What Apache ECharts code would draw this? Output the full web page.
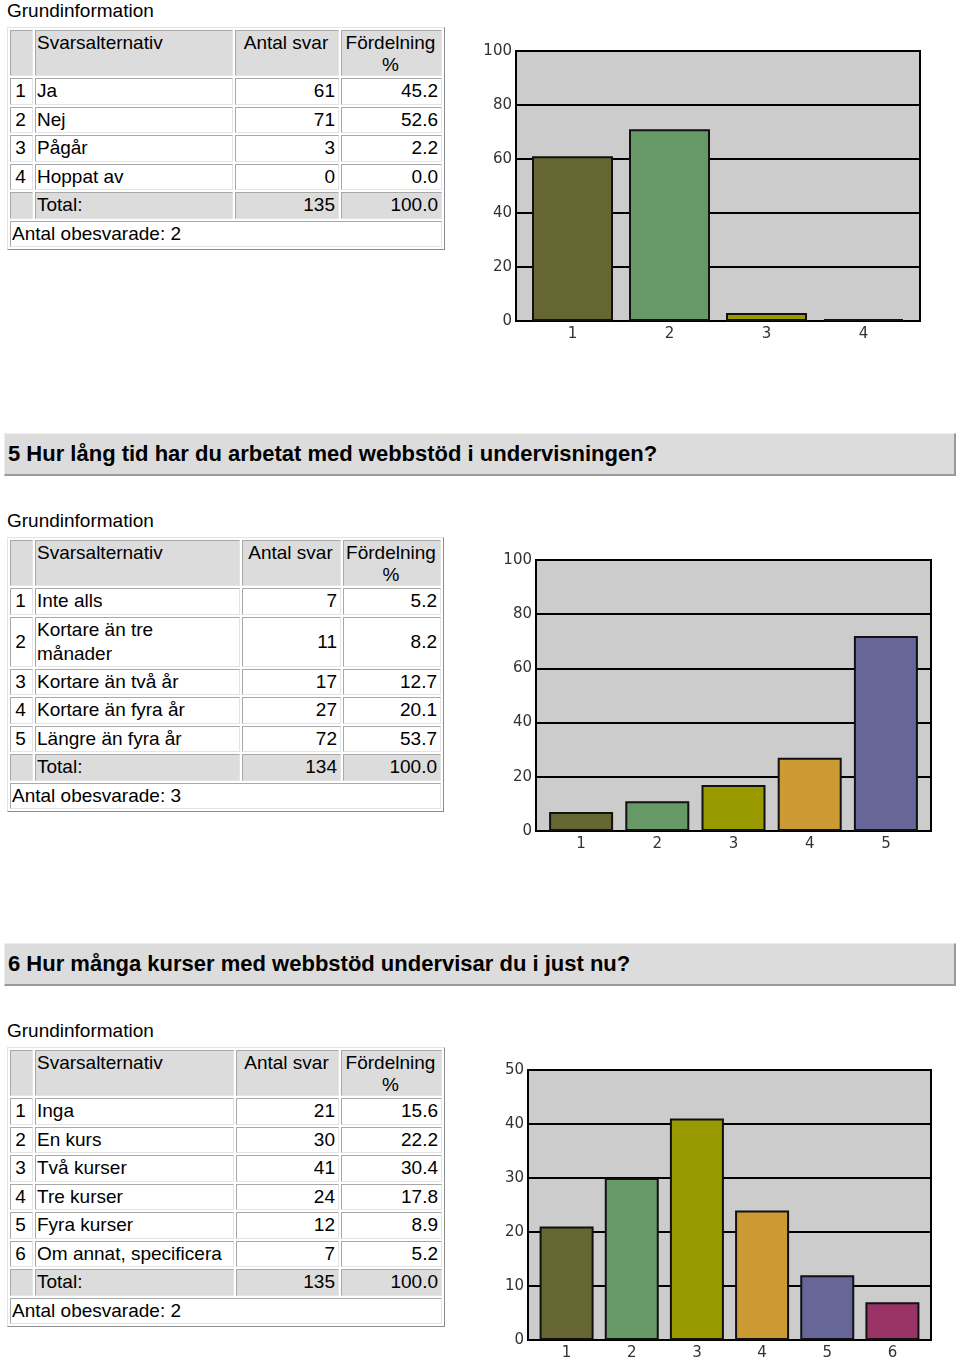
<!DOCTYPE html>
<html><head><meta charset="utf-8">
<script src="https://cdn.jsdelivr.net/npm/echarts@6/dist/echarts.min.js"></script>
<style>
html,body{margin:0;padding:0;background:#fff;}
body{width:960px;height:1359px;position:relative;overflow:hidden;font-family:"Liberation Sans",Arial,Helvetica,sans-serif;color:#000;}
.lbl{position:absolute;left:7px;font-size:19px;line-height:22px;white-space:nowrap;}
.qbar{position:absolute;left:4px;width:952px;height:43px;box-sizing:border-box;background:#dcdcdc;border-top:1px solid #eeeeee;border-left:1px solid #eeeeee;border-right:2px solid #9a9a9a;border-bottom:2px solid #9a9a9a;font-weight:bold;font-size:22px;line-height:40px;padding-left:3px;white-space:nowrap;}
.tbl{position:absolute;left:7px;display:grid;gap:2px;padding:2px;border:1px solid;border-color:#e4e4e4 #8c8c8c #8c8c8c #e4e4e4;font-size:19px;grid-auto-rows:minmax(26.5px,auto);}
.c{box-sizing:border-box;border:1px solid;border-color:#a8a8a8 #e4e4e4 #e4e4e4 #a8a8a8;display:flex;align-items:center;padding:0 3px 0 1px;line-height:24px;background:#fff;overflow:hidden;white-space:normal;}
.h{background:#dcdcdc;align-items:flex-start;line-height:22px;padding-top:1px;}
.g{background:#dcdcdc;}
.r{justify-content:flex-end;}
.m{justify-content:center;text-align:center;}
.span4{grid-column:1 / span 4;}
.txt{max-width:190px;}
#chart{position:absolute;left:0;top:0;width:960px;height:1359px;pointer-events:none;}
</style>
</head>
<body>
<div id="page"></div>
<div id="chart"></div>
<script>
// ---------- Data ----------
const sectionLabel = 'Grundinformation';
const headers = ['Svarsalternativ', 'Antal svar', 'Fördelning<br>%'];
const totalLabel = 'Total:';
const unansweredLabel = 'Antal obesvarade: ';

const q4Title = null;
const q4Options = ['Ja', 'Nej', 'Pågår', 'Hoppat av'];
const q4Counts = [61, 71, 3, 0];
const q4Percent = [45.2, 52.6, 2.2, 0.0];
const q4Total = 135;
const q4TotalPct = 100.0;
const q4Unanswered = 2;
const q4Cats = ['1', '2', '3', '4'];
const q4YMax = 100, q4YStep = 20;

const q5Title = '5 Hur lång tid har du arbetat med webbstöd i undervisningen?';
const q5Options = ['Inte alls', 'Kortare än tre månader', 'Kortare än två år', 'Kortare än fyra år', 'Längre än fyra år'];
const q5Counts = [7, 11, 17, 27, 72];
const q5Percent = [5.2, 8.2, 12.7, 20.1, 53.7];
const q5Total = 134;
const q5TotalPct = 100.0;
const q5Unanswered = 3;
const q5Cats = ['1', '2', '3', '4', '5'];
const q5YMax = 100, q5YStep = 20;

const q6Title = '6 Hur många kurser med webbstöd undervisar du i just nu?';
const q6Options = ['Inga', 'En kurs', 'Två kurser', 'Tre kurser', 'Fyra kurser', 'Om annat, specificera'];
const q6Counts = [21, 30, 41, 24, 12, 7];
const q6Percent = [15.6, 22.2, 30.4, 17.8, 8.9, 5.2];
const q6Total = 135;
const q6TotalPct = 100.0;
const q6Unanswered = 2;
const q6Cats = ['1', '2', '3', '4', '5', '6'];
const q6YMax = 50, q6YStep = 10;

const palette = ['#666633', '#669966', '#999900', '#cc9933', '#666699', '#993366'];

// ---------- Layout ----------
const sections = [
  { title: q4Title, opts: q4Options, counts: q4Counts, pct: q4Percent, total: q4Total, totalPct: q4TotalPct, unans: q4Unanswered, cats: q4Cats, yMax: q4YMax, yStep: q4YStep,
    top: 0, titleTop: null, cols: [23, 198, 104, 101], grid: [516, 51, 404, 270], pad: 8, barW: 81 },
  { title: q5Title, opts: q5Options, counts: q5Counts, pct: q5Percent, total: q5Total, totalPct: q5TotalPct, unans: q5Unanswered, cats: q5Cats, yMax: q5YMax, yStep: q5YStep,
    top: 510, titleTop: 433, cols: [23, 205, 99, 98], grid: [536, 560, 395, 271], pad: 7, barW: 64 },
  { title: q6Title, opts: q6Options, counts: q6Counts, pct: q6Percent, total: q6Total, totalPct: q6TotalPct, unans: q6Unanswered, cats: q6Cats, yMax: q6YMax, yStep: q6YStep,
    top: 1020, titleTop: 943, cols: [23, 199, 103, 101], grid: [528, 1070, 403, 270], pad: 6, barW: 54 }
];

const page = document.getElementById('page');
sections.forEach(s => {
  let html = '';
  if (s.title) html += `<div class="qbar" style="top:${s.titleTop}px">${s.title}</div>`;
  html += `<div class="lbl" style="top:${s.top}px">${sectionLabel}</div>`;
  html += `<div class="tbl" style="top:${s.top + 27}px;grid-template-columns:${s.cols.map(c => c + 'px').join(' ')};grid-template-rows:46px;">`;
  html += `<div class="c h"></div><div class="c h"><span>${headers[0]}</span></div><div class="c h m"><span>${headers[1]}</span></div><div class="c h m"><span>${headers[2]}</span></div>`;
  s.opts.forEach((o, i) => {
    html += `<div class="c m">${i + 1}</div><div class="c"><span class="txt">${o}</span></div><div class="c r">${s.counts[i]}</div><div class="c r">${s.pct[i].toFixed(1)}</div>`;
  });
  html += `<div class="c g"></div><div class="c g">${totalLabel}</div><div class="c g r">${s.total}</div><div class="c g r">${s.totalPct.toFixed(1)}</div>`;
  html += `<div class="c span4">${unansweredLabel}${s.unans}</div>`;
  html += `</div>`;
  page.insertAdjacentHTML('beforeend', html);
});

// ---------- Charts ----------
const grids = [], xAxes = [], yAxes = [], series = [];
sections.forEach((s, k) => {
  const [gl, gt, gw, gh] = s.grid;
  const n = s.cats.length;
  const catW = (gw - 2 * s.pad) / n;
  const padU = s.pad / catW;
  grids.push({ left: gl, top: gt, width: gw, height: gh, show: true, backgroundColor: '#cccccc', borderColor: '#000', borderWidth: 2, containLabel: false, outerBoundsMode: 'none' });
  xAxes.push({
    gridIndex: k, type: 'value', min: 0.5 - padU, max: n + 0.5 + padU,
    axisLine: { show: false }, axisTick: { show: false }, splitLine: { show: false },
    axisLabel: { customValues: s.cats.map((c, i) => i + 1), formatter: v => s.cats[Math.round(v) - 1], margin: 6,
      color: '#333', fontFamily: 'DejaVu Sans', fontSize: 15 }
  });
  yAxes.push({
    gridIndex: k, type: 'value', min: 0, max: s.yMax, interval: s.yStep,
    axisLine: { show: false }, axisTick: { show: false },
    splitLine: { show: true, lineStyle: { color: '#000', width: 2 } },
    axisLabel: { margin: 4, color: '#333', fontFamily: 'DejaVu Sans', fontSize: 15 }
  });
  series.push({
    type: 'bar', xAxisIndex: k, yAxisIndex: k, barWidth: s.barW, barMinHeight: 2, animation: false,
    itemStyle: { borderColor: '#111', borderWidth: 2 },
    data: s.counts.map((v, i) => ({ value: [i + 1, v], itemStyle: { color: palette[i] } }))
  });
});

const chart = echarts.init(document.getElementById('chart'), null, { renderer: 'canvas' });
chart.setOption({
  backgroundColor: 'transparent',
  animation: false,
  grid: grids, xAxis: xAxes, yAxis: yAxes, series: series
});
</script>
</body></html>
